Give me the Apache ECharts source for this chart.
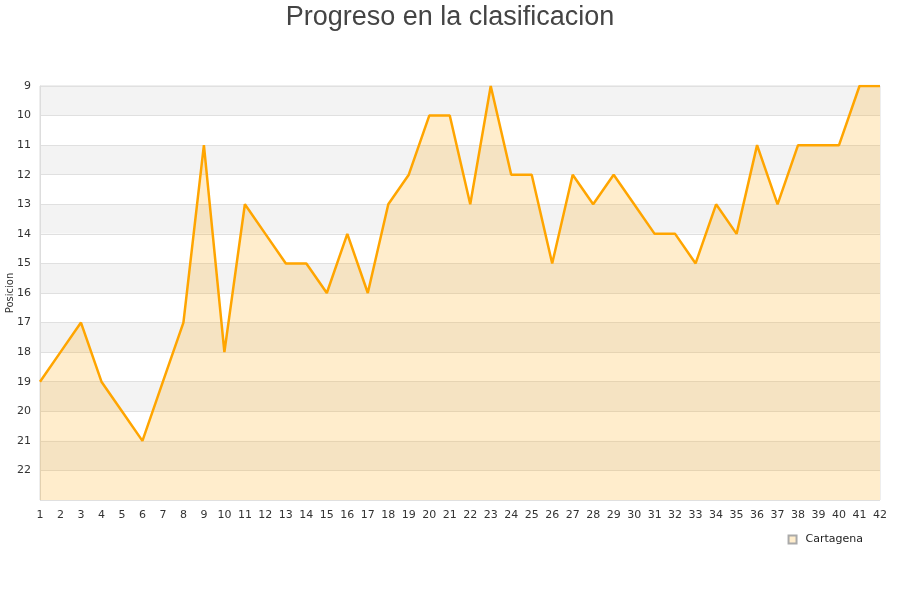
<!DOCTYPE html>
<html>
<head>
<meta charset="utf-8">
<script src="https://cdn.jsdelivr.net/npm/echarts@6/dist/echarts.min.js"></script>
<style>
  html, body { margin: 0; padding: 0; background: #fff; }
  #chart { width: 900px; height: 600px; }
</style>
</head>
<body>
<div id="chart"></div>
<script>
// jornadas (x axis)
var jornadas = [];
for (var j = 1; j <= 42; j++) { jornadas.push(String(j)); }

// posicion por jornada
var cartagena = [19, 18, 17, 19, 20, 21, 19, 17, 11, 18,
                 13, 14, 15, 15, 16, 14, 16, 13, 12, 10,
                 10, 13, 9, 12, 12, 15, 12, 13, 12, 13,
                 14, 14, 15, 13, 14, 11, 13, 11, 11, 11,
                 9, 9];

var chart = echarts.init(document.getElementById('chart'));

var option = {
    animation: false,
    title: {
        text: 'Progreso en la clasificacion',
        left: 'center',
        top: -1,
        textStyle: {
            fontFamily: 'Liberation Sans',
            fontSize: 27,
            fontWeight: 'normal',
            color: '#444'
        }
    },
    legend: {
        data: ['Cartagena'],
        right: 32,
        top: 529,
        icon: 'rect',
        itemWidth: 8,
        itemHeight: 8,
        itemGap: 6,
        textStyle: { fontFamily: 'DejaVu Sans', fontSize: 11, color: '#222', padding: [0, 0, 0, 4] }
    },
    grid: {
        left: 40,
        right: 20,
        top: 86,
        bottom: 100,
        outerBoundsMode: 'none',
        containLabel: false,
        show: true,
        borderColor: '#ddd',
        borderWidth: 1
    },
    xAxis: {
        type: 'category',
        boundaryGap: false,
        data: jornadas,
        axisLine: { show: false },
        axisTick: { show: false },
        splitLine: { show: false },
        axisLabel: {
            interval: 0,
            margin: 10,
            fontFamily: 'DejaVu Sans',
            fontSize: 11,
            color: '#333'
        }
    },
    yAxis: {
        type: 'value',
        inverse: true,
        min: 9,
        max: 23,
        interval: 1,
        name: 'Posicion',
        nameLocation: 'middle',
        nameGap: 25,
        nameMoveOverlap: false,
        nameTextStyle: { fontFamily: 'DejaVu Sans', fontSize: 10, color: '#333' },
        axisLine: { show: true, lineStyle: { color: '#ddd' } },
        axisTick: { show: false },
        axisLabel: {
            fontFamily: 'DejaVu Sans',
            fontSize: 11,
            color: '#333',
            margin: 9,
            formatter: function (v) { return v === 23 ? '' : String(v); }
        },
        splitLine: { show: true, lineStyle: { color: '#e0e0e0' } },
        splitArea: { show: true, areaStyle: { color: ['#f3f3f3', '#ffffff'] } }
    },
    series: [{
        name: 'Cartagena',
        type: 'line',
        data: cartagena,
        symbol: 'none',
        lineStyle: { color: '#ffa500', width: 2.5 },
        itemStyle: { color: '#ffedcc', borderColor: '#aaa', borderWidth: 1 },
        areaStyle: { color: '#ffa500', opacity: 0.2, origin: 'end' }
    }]
};

chart.setOption(option);
</script>
</body>
</html>
